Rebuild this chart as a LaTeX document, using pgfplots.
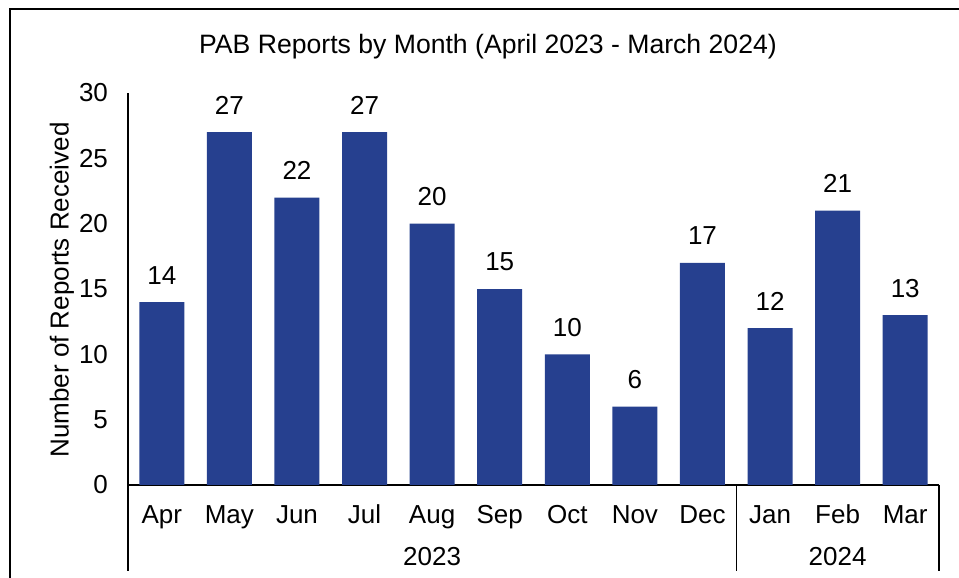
\documentclass[border=0pt]{standalone}
\usepackage{pgfplots}
\pgfplotsset{compat=1.18}
\usepackage{fontspec}
\setmainfont{Liberation Sans}
\definecolor{barblue}{RGB}{38,64,143}
\newcommand{\cf}{\fontsize{13}{15}\selectfont}
\begin{document}
\cf
\begin{tikzpicture}[x=0.5pt,y=0.5pt]
\useasboundingbox (0,0) rectangle (959,578);
\draw[line width=1pt] (9.5,0) -- (9.5,568.5) -- (959,568.5);
\node[font=\fontsize{13.3}{15}\selectfont] at (488,531) {PAB Reports by Month (April 2023 - March 2024)};
\node[rotate=90, font=\cf] at (62,288) {Number of Reports Received};
\begin{axis}[
  at={(128pt*0.5,93pt*0.5)}, anchor=south west,
  scale only axis, width=405.5pt, height=196pt,
  xmin=-0.5, xmax=11.5, ymin=0, ymax=30,
  ytick={0,5,...,30},
  xtick={0,...,11},
  xticklabels={Apr,May,Jun,Jul,Aug,Sep,Oct,Nov,Dec,Jan,Feb,Mar},
  major tick length=0pt,
  axis x line*=bottom, axis y line*=left,
  axis line style={-, line width=0.7pt, black},
  ticklabel style={font=\cf},
  /pgf/number format/assume math mode=true,
  yticklabel style={xshift=-5.5pt},
  xticklabel style={anchor=base, yshift=-19.3pt},
  clip=false,
  ybar, bar width=22.5pt,
  nodes near coords,
  nodes near coords style={anchor=base, yshift=9pt, font=\cf},
]
\addplot[fill=barblue, draw=none] coordinates {
(0,14) (1,27) (2,22) (3,27) (4,20) (5,15) (6,10) (7,6) (8,17) (9,12) (10,21) (11,13)};
\draw[line width=0.7pt] (axis cs:-0.5,0) -- ([yshift=-43pt]axis cs:-0.5,0);
\draw[line width=0.7pt] (axis cs:8.5,0) -- ([yshift=-43pt]axis cs:8.5,0);
\draw[line width=0.7pt] (axis cs:11.5,0) -- ([yshift=-43pt]axis cs:11.5,0);
\node[anchor=base, font=\cf] at ([yshift=-40.3pt]axis cs:4,0) {2023};
\node[anchor=base, font=\cf] at ([yshift=-40.3pt]axis cs:10,0) {2024};
\end{axis}
\end{tikzpicture}
\end{document}
